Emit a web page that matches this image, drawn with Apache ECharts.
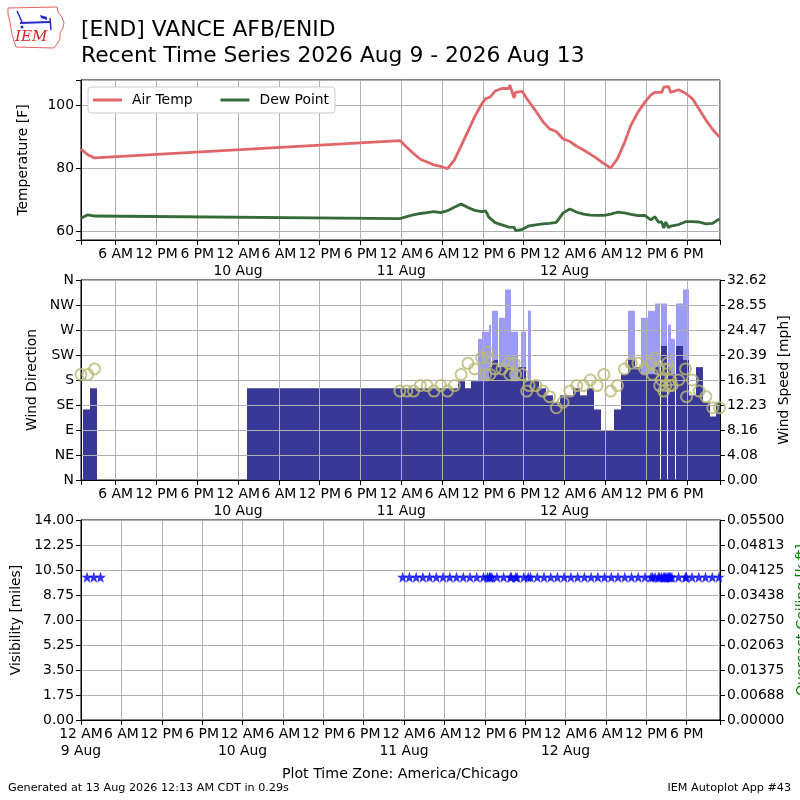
<!DOCTYPE html>
<html lang="en">
<head>
<meta charset="UTF-8">
<title>[END] VANCE AFB/ENID Recent Time Series</title>
<script src="https://cdn.jsdelivr.net/npm/echarts@6/dist/echarts.min.js"></script>
<style>
  html, body { margin: 0; padding: 0; background: #fff; }
  #main { width: 800px; height: 800px; }
</style>
</head>
<body>
<div id="main"></div>
<script>
// observation times, hours after 9 Aug 2026 00:00 (plot time zone)
var obsHour = [0.9, 1.9, 2.9, 47.8, 48.8, 49.8, 50.8, 51.8, 52.8, 53.8,
               54.8, 55.8, 56.8, 57.8, 58.8, 59.8, 60.4, 60.7, 60.8, 61.05,
               61.8, 62.8, 63.8, 63.95, 64.6, 64.8, 65.8, 66.45, 66.8, 67.8,
               68.8, 69.8, 70.8, 71.8, 72.8, 73.8, 74.8, 75.8, 76.8, 77.8,
               78.8, 79.8, 80.8, 81.8, 82.8, 83.8, 84.7, 84.95, 85.3, 85.8,
               86.0, 86.3, 86.6, 86.75, 86.9, 87.1, 87.3, 87.45, 87.6, 87.8,
               88.8, 89.8, 89.95, 90.8, 91.8, 92.8, 93.8, 94.8];
// air temperature [F]
var tmpf = [86.0, 84.2, 83.2, 88.7, 86.6, 84.6, 82.8, 81.9, 81.0, 80.5,
            79.8, 82.5, 87.0, 91.6, 96.3, 100.2, 102.0, 102.2, 102.2, 102.5,
            104.4, 105.2, 105.2, 106.3, 102.2, 104.0, 104.3, 102.0, 101.0, 98.0,
            94.8, 92.4, 91.6, 89.2, 88.4, 86.9, 85.7, 84.4, 83.0, 81.4,
            80.0, 83.0, 87.9, 93.7, 97.7, 100.8, 103.2, 103.5, 104.0, 104.0,
            104.0, 104.0, 105.6, 105.6, 105.7, 105.8, 105.8, 105.0, 104.0, 104.2,
            104.8, 103.7, 103.5, 102.0, 98.6, 95.2, 92.2, 89.8];
// dew point [F]
var dwpf = [64.1, 65.2, 64.8, 64.0, 64.6, 65.2, 65.6, 65.9, 66.2, 65.9,
            66.5, 67.6, 68.6, 67.5, 66.6, 66.2, 66.4, 65.3, 64.6, 64.0,
            62.7, 62.0, 61.3, 61.3, 61.2, 60.2, 60.6, 61.3, 61.7, 62.0,
            62.3, 62.5, 62.8, 65.8, 67.0, 66.0, 65.4, 65.1, 65.0, 65.0,
            65.4, 66.0, 65.8, 65.3, 64.9, 65.0, 63.6, 64.0, 64.6, 62.9,
            62.9, 62.9, 61.0, 62.0, 62.9, 62.0, 61.1, 61.3, 61.6, 61.7,
            62.1, 63.0, 63.0, 63.0, 62.9, 62.3, 62.5, 63.9];
// wind direction [deg]
var drct = [190, 190, 200, 160, 160, 160, 170, 170, 160, 170,
            160, 170, 190, 210, 200, 220, 190, 230, 220, 190,
            200, 200, 210, 190, 210, 190, 190, 160, 170, 170,
            160, 150, 130, 140, 160, 170, 170, 180, 170, 190,
            160, 170, 200, 210, 210, 200, 210, 190, 220, 200,
            170, 180, 160, 200, 170, 210, 200, 170, 180, 170,
            180, 200, 150, 180, 160, 150, 130, 130];
// visibility [miles]
var vsby = [10, 10, 10, 10, 10, 10, 10, 10, 10, 10,
            10, 10, 10, 10, 10, 10, 10, 10, 10, 10,
            10, 10, 10, 10, 10, 10, 10, 10, 10, 10,
            10, 10, 10, 10, 10, 10, 10, 10, 10, 10,
            10, 10, 10, 10, 10, 10, 10, 10, 10, 10,
            10, 10, 10, 10, 10, 10, 10, 10, 10, 10,
            10, 10, 10, 10, 10, 10, 10, 10];

// wind speed / gust spans (hours), mph
var barFrom = [1.2, 2.2, 25.3, 47.3, 48.3, 49.3, 50.3, 51.3, 52.3, 53.3,
               54.3, 55.3, 56.3, 57.3, 58.3, 59.3, 59.9, 60.9, 61.2, 61.4,
               62.2, 62.4, 63.3, 64.2, 65.2, 65.6, 66.3, 66.6, 67.1, 67.3,
               68.3, 69.3, 70.3, 71.3, 72.3, 73.3, 74.3, 75.3, 76.3, 77.3,
               78.3, 79.3, 80.3, 81.3, 82.3, 83.3, 84.3, 85.3, 86.2, 87.2,
               87.7, 88.45, 89.5, 90.35, 91.35, 92.35, 93.35, 94.35];
var barTo =   [2.2, 3.25, 47.3, 48.3, 49.3, 50.3, 51.3, 52.3, 53.3, 54.3,
               55.3, 56.3, 57.3, 58.3, 59.3, 59.9, 60.9, 61.2, 61.4, 62.2,
               62.4, 63.3, 64.2, 65.2, 65.6, 66.3, 66.6, 67.1, 67.3, 68.3,
               69.3, 70.3, 71.3, 72.3, 73.3, 74.3, 75.3, 76.3, 77.3, 78.3,
               79.3, 80.3, 81.3, 82.3, 83.3, 84.3, 85.3, 86.1, 87.1, 87.7,
               88.3, 89.5, 90.25, 91.35, 92.35, 93.35, 94.35, 95.35];
var sped = [11.51, 14.96, 14.96, 14.96, 14.96, 14.96, 14.96, 14.96, 14.96, 14.96,
            14.96, 14.96, 16.11, 14.96, 16.11, 16.11, 16.11, 18.41, 18.41, 19.56,
            18.41, 18.41, 18.41, 16.11, 18.41, 18.41, 16.11, 16.11, 16.11, 16.11,
            14.96, 13.81, 12.66, 13.81, 13.81, 14.96, 13.81, 14.96, 11.51, 8.06,
            8.06, 11.51, 17.26, 19.56, 18.41, 17.26, 17.26, 18.41, 21.86, 18.41,
            17.26, 21.86, 19.56, 13.81, 18.41, 12.66, 10.36, 12.66];
var gust = [null, null, null, null, null, null, null, null, null, null,
            null, null, null, null, null, 23.02, 24.17, 25.32, null, 27.62,
            null, 26.47, 31.07, 24.17, null, 24.17, null, 27.62, null, null,
            null, null, null, null, null, null, null, null, null, null,
            null, null, null, 27.62, null, 26.47, 27.62, 28.77, 28.77, 25.32,
            23.02, 28.77, 31.07, null, null, null, null, null];

var dirLabels = ['N', 'NE', 'E', 'SE', 'S', 'SW', 'W', 'NW', 'N'];

// x axes run in units of 6 hours so the 6-hourly ticks come out nice
function q(h) { return h / 6; }

function timeLabel(v) {
    if (Math.abs(v - Math.round(v)) > 1e-6) return '';
    var h = Math.round(v) * 6;
    var hh = h % 24;
    if (hh === 0) return '12 AM\n' + (9 + h / 24) + ' Aug';
    if (hh === 6) return '6 AM';
    if (hh === 12) return '12 PM';
    return '6 PM';
}

var FONT = 'DejaVu Sans';
var FS = 13.9;
var GRIDC = '#b0b0b0';

function xAxisFor(gi, lo, hi, z) {
    return {
        type: 'value', gridIndex: gi, min: q(lo), max: q(hi), z: z || 0,
        splitNumber: 16, minInterval: 1, maxInterval: 1,
        axisLine: { lineStyle: { color: '#000', width: 1 } },
        axisTick: { length: 5, lineStyle: { color: '#000' } },
        axisLabel: { formatter: timeLabel, color: '#000', fontSize: FS, lineHeight: 17, margin: 6,
                     showMinLabel: true, showMaxLabel: true },
        splitLine: { show: true, lineStyle: { color: GRIDC, width: 1 } }
    };
}

function yName(txt, gap, color) {
    return {
        name: txt, nameLocation: 'middle', nameGap: gap, nameRotate: 90,
        nameTextStyle: { fontSize: FS, color: color || '#000' }
    };
}

function barItem(params, api) {
    var a = api.coord([api.value(0), api.value(2)]);
    var b = api.coord([api.value(1), 0]);
    var x0 = Math.round(a[0]), x1 = Math.round(b[0]);
    var rect = echarts.graphic.clipRectByRect(
        { x: x0, y: a[1], width: x1 - x0, height: b[1] - a[1] },
        params.coordSys);
    return rect && { type: 'rect', shape: rect, style: { fill: api.visual('color') } };
}

var tempData = obsHour.map(function (h, i) { return [q(h), tmpf[i]]; });
var dewData = obsHour.map(function (h, i) { return [q(h), dwpf[i]]; });
var dirData = obsHour.map(function (h, i) { return [q(h), drct[i]]; });
var visData = obsHour.map(function (h, i) { return [q(h), vsby[i]]; });
var spdData = barFrom.map(function (f, i) { return [q(f), q(barTo[i]), sped[i]]; });
var gustData = [];
barFrom.forEach(function (f, i) {
    if (gust[i] != null) gustData.push([q(f), q(barTo[i]), gust[i]]);
});

var axisLineBlack = { show: true, lineStyle: { color: '#000', width: 1 } };
var tickBlack = { show: true, length: 5, lineStyle: { color: '#000' } };

var chart = echarts.init(document.getElementById('main'));
chart.setOption({
    animation: false,
    backgroundColor: '#fff',
    textStyle: { fontFamily: FONT },
    grid: [
        { left: 81, top: 80, width: 639, height: 160, show: true, borderColor: '#000', borderWidth: 1, outerBoundsMode: 'none' },
        { left: 81, top: 280, width: 639, height: 200, show: true, borderColor: '#000', borderWidth: 1, outerBoundsMode: 'none' },
        { left: 81, top: 520, width: 639, height: 200, show: true, borderColor: '#000', borderWidth: 1, outerBoundsMode: 'none' }
    ],
    legend: {
        left: 88, top: 87, padding: [6, 6, 6, 5],
        itemWidth: 29, itemHeight: 3, itemGap: 28,
        borderColor: '#cccccc', borderWidth: 1, borderRadius: 3, backgroundColor: '#fff',
        textStyle: { fontSize: FS, color: '#000', padding: [0, 0, 0, 5] },
        data: [{ name: 'Air Temp', icon: 'rect' }, { name: 'Dew Point', icon: 'rect' }]
    },
    xAxis: [
        xAxisFor(0, 0.9, 94.87),
        xAxisFor(1, 0.9, 94.87, 5),
        xAxisFor(2, 0, 94.95)
    ],
    yAxis: [
        Object.assign({
            type: 'value', gridIndex: 0, min: 57.2, max: 107.9, splitNumber: 3,
            axisLine: axisLineBlack, axisTick: tickBlack,
            axisLabel: { color: '#000', fontSize: FS, margin: 7,
                formatter: function (v) { return Math.abs(v % 20) < 1e-6 ? String(v) : ''; } },
            splitLine: { show: true, lineStyle: { color: GRIDC, width: 1 } }
        }, yName('Temperature [F]', 51)),
        Object.assign({
            type: 'value', gridIndex: 1, min: 0, max: 360, interval: 45, z: 5,
            axisLine: axisLineBlack, axisTick: tickBlack,
            axisLabel: { color: '#000', fontSize: FS, margin: 7,
                formatter: function (v) { return dirLabels[Math.round(v / 45)]; } },
            splitLine: { show: true, lineStyle: { color: GRIDC, width: 1 } }
        }, yName('Wind Direction', 37)),
        Object.assign({
            type: 'value', gridIndex: 1, position: 'right', min: 0, max: 32.6236, interval: 4.07795, z: 5,
            axisLine: axisLineBlack, axisTick: tickBlack,
            axisLabel: { color: '#000', fontSize: FS, margin: 7,
                formatter: function (v) { return v.toFixed(2); } },
            splitLine: { show: false }
        }, yName('Wind Speed [mph]', 49)),
        Object.assign({
            type: 'value', gridIndex: 2, min: 0, max: 14, interval: 1.75,
            axisLine: axisLineBlack, axisTick: tickBlack,
            axisLabel: { color: '#000', fontSize: FS, margin: 7,
                formatter: function (v) { return v.toFixed(2); } },
            splitLine: { show: true, lineStyle: { color: GRIDC, width: 1 } }
        }, yName('Visibility [miles]', 49)),
        Object.assign({
            type: 'value', gridIndex: 2, position: 'right', min: 0, max: 0.055, interval: 0.006875,
            axisLine: axisLineBlack, axisTick: tickBlack,
            axisLabel: { color: '#000', fontSize: FS, margin: 7,
                formatter: function (v) { return (Math.round(v * 1e5 + 1e-7) / 1e5).toFixed(5); } },
            splitLine: { show: false }
        }, yName('Overcast Ceiling [k ft]', 67, '#008000'))
    ],
    series: [
        { name: 'Air Temp', type: 'line', xAxisIndex: 0, yAxisIndex: 0, data: tempData,
          symbol: 'none', z: 3, lineStyle: { color: '#e0666a', width: 2.8 }, itemStyle: { color: '#e0666a' } },
        { name: 'Dew Point', type: 'line', xAxisIndex: 0, yAxisIndex: 0, data: dewData,
          symbol: 'none', z: 3, lineStyle: { color: '#356b38', width: 2.8 }, itemStyle: { color: '#356b38' } },
        { name: 'Gust', type: 'custom', xAxisIndex: 1, yAxisIndex: 2, data: gustData,
          renderItem: barItem, encode: { x: [0, 1], y: 2 }, itemStyle: { color: '#9c9cf8' }, z: 1 },
        { name: 'Speed', type: 'custom', xAxisIndex: 1, yAxisIndex: 2, data: spdData,
          renderItem: barItem, encode: { x: [0, 1], y: 2 }, itemStyle: { color: '#3a3896' }, z: 2 },
        { name: 'Direction', type: 'scatter', xAxisIndex: 1, yAxisIndex: 1, data: dirData,
          symbol: 'circle', symbolSize: 11, z: 8,
          itemStyle: { color: 'rgba(0,0,0,0)', borderColor: '#b9b977', borderWidth: 2 } },
        { name: 'Visibility', type: 'scatter', xAxisIndex: 2, yAxisIndex: 3, data: visData,
          symbol: 'path://M0,-10L2.35,-3.24L9.51,-3.09L3.8,1.24L5.88,8.09L0,4L-5.88,8.09L-3.8,1.24L-9.51,-3.09L-2.35,-3.24Z',
          symbolSize: 11, z: 4, itemStyle: { color: '#0000ff' } }
    ],
    graphic: [
        // IEM logo
        { type: 'polygon', shape: { points: [[8, 8], [57, 7], [58, 12], [62, 17], [64, 23], [63, 28], [60, 33], [60, 39], [57, 44], [54, 48], [16, 47], [14, 41], [12, 34], [10, 22], [8, 14]] },
          style: { fill: 'none', stroke: '#e86060', lineWidth: 1 } },
        { type: 'line', shape: { x1: 20, y1: 23, x2: 50, y2: 22 }, style: { stroke: '#2a2acc', lineWidth: 2 } },
        { type: 'line', shape: { x1: 17, y1: 11, x2: 22, y2: 22 }, style: { stroke: '#2a2acc', lineWidth: 1.5 } },
        { type: 'polygon', shape: { points: [[40, 15], [47, 17], [47, 20], [41, 18]] }, style: { fill: '#2a2acc' } },
        { type: 'line', shape: { x1: 50, y1: 18, x2: 51, y2: 30 }, style: { stroke: '#2a2acc', lineWidth: 1.5 } },
        { type: 'circle', shape: { cx: 22, cy: 27, r: 1.5 }, style: { fill: '#2a2acc' } },
        { type: 'text', left: 15, top: 30, style: { text: 'IEM', font: 'italic 15px "DejaVu Serif"', fill: '#dd2222' } },
        // titles
        { type: 'text', left: 81, top: 19, style: { text: '[END] VANCE AFB/ENID', font: '21.8px "DejaVu Sans"', fill: '#000' } },
        { type: 'text', left: 81, top: 45, style: { text: 'Recent Time Series 2026 Aug 9 - 2026 Aug 13', font: '21.8px "DejaVu Sans"', fill: '#000' } },
        // footer
        { type: 'text', left: 'center', top: 767, style: { text: 'Plot Time Zone: America/Chicago', font: '14.2px "DejaVu Sans"', fill: '#000' } },
        { type: 'text', left: 8, top: 783, style: { text: 'Generated at 13 Aug 2026 12:13 AM CDT in 0.29s', font: '11.2px "DejaVu Sans"', fill: '#000' } },
        { type: 'text', right: 9, top: 783, style: { text: 'IEM Autoplot App #43', font: '11.2px "DejaVu Sans"', fill: '#000' } }
    ]
});
</script>
</body>
</html>
